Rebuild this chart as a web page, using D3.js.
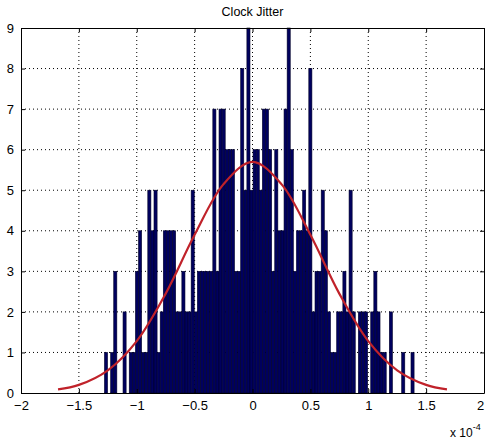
<!DOCTYPE html>
<html>
<head>
<meta charset="utf-8">
<script src="https://cdn.jsdelivr.net/npm/d3@7"></script>
<style>
  body { margin: 0; background: #fff; }
  text { font-family: "Liberation Sans", Arial, sans-serif; fill: #000; }
</style>
</head>
<body>
<div id="chart"></div>
<script>
// histogram of the jitter samples (units of 1e-4)
var binStart = -1.279;
var binWidth = 0.02675;
var counts = [
  1, 0, 1, 3, 0, 0, 2, 0, 1, 1,
  3, 4, 1, 1, 5, 4, 5, 1, 2, 4,
  4, 4, 4, 2, 2, 3, 2, 2, 5, 2,
  3, 3, 3, 3, 3, 7, 3, 7, 7, 6,
  6, 6, 3, 3, 8, 5, 9, 5, 6, 6,
  5, 7, 7, 6, 3, 6, 4, 4, 7, 9,
  6, 3, 4, 4, 5, 4, 8, 2, 3, 3,
  5, 4, 2, 1, 1, 2, 2, 3, 2, 5,
  2, 0, 2, 2, 2, 0, 2, 3, 2, 1,
  1, 0, 2, 0, 0, 0, 1, 0, 0, 1
];

// fitted normal curve
var fitX = [-1.68, -1.5, -1.25, -1.0, -0.75, -0.5, -0.25, 0, 0.25, 0.5, 0.75, 1.0, 1.25, 1.5, 1.68];
var fitY = [0.09, 0.2, 0.56, 1.28, 2.45, 3.9, 5.15, 5.7, 5.15, 3.9, 2.45, 1.28, 0.56, 0.2, 0.09];

var xTicks = [-2, -1.5, -1, -0.5, 0, 0.5, 1, 1.5, 2];
var yTicks = [0, 1, 2, 3, 4, 5, 6, 7, 8, 9];

var W = 485, H = 443;
var margin = { left: 21, right: 1, top: 28, bottom: 50 };
var width = W - margin.left - margin.right;
var height = H - margin.top - margin.bottom;

var svg = d3.select('#chart').append('svg')
  .attr('width', W)
  .attr('height', H);

var g = svg.append('g')
  .attr('transform', 'translate(' + margin.left + ',' + margin.top + ')');

var x = d3.scaleLinear().domain([-2, 2]).range([0, width]);
var y = d3.scaleLinear().domain([0, 9]).range([height, 0]);

// grid (behind the data)
g.append('g').selectAll('line')
  .data(xTicks.slice(1, -1))
  .enter().append('line')
  .attr('x1', d => x(d)).attr('x2', d => x(d))
  .attr('y1', 0).attr('y2', height)
  .attr('stroke', '#000').attr('stroke-width', 1)
  .attr('stroke-dasharray', '1,3');

g.append('g').selectAll('line')
  .data(yTicks.slice(1, -1))
  .enter().append('line')
  .attr('x1', 0).attr('x2', width)
  .attr('y1', d => y(d)).attr('y2', d => y(d))
  .attr('stroke', '#000').attr('stroke-width', 1)
  .attr('stroke-dasharray', '1,3');

// bars
g.append('g').selectAll('rect')
  .data(counts)
  .enter().append('rect')
  .attr('x', (d, i) => x(binStart + i * binWidth))
  .attr('width', x(binWidth) - x(0))
  .attr('y', d => y(d))
  .attr('height', d => y(0) - y(d))
  .attr('fill', '#00005e')
  .attr('stroke', '#000028')
  .attr('stroke-width', 0.6);

// fit line
var line = d3.line()
  .x((d, i) => x(fitX[i]))
  .y(d => y(d))
  .curve(d3.curveCatmullRom);

g.append('path')
  .datum(fitY)
  .attr('d', line)
  .attr('fill', 'none')
  .attr('stroke', '#c0222a')
  .attr('stroke-width', 2.2);

// axes box + inward ticks
var xAxisB = d3.axisBottom(x).tickValues(xTicks).tickSizeInner(-4).tickSizeOuter(0)
  .tickPadding(8).tickFormat(d3.format('~g'));
var xAxisT = d3.axisTop(x).tickValues(xTicks).tickSizeInner(-4).tickSizeOuter(0).tickFormat('');
var yAxisL = d3.axisLeft(y).tickValues(yTicks).tickSizeInner(-4).tickSizeOuter(0).tickPadding(7);
var yAxisR = d3.axisRight(y).tickValues(yTicks).tickSizeInner(-4).tickSizeOuter(0).tickFormat('');

function styleAxis(sel) {
  sel.select('.domain').attr('stroke', '#000');
  sel.selectAll('.tick line').attr('stroke', '#000');
  sel.selectAll('.tick text').attr('font-size', 13).attr('fill', '#000')
    .attr('font-family', '"Liberation Sans", Arial, sans-serif');
}

var xb = g.append('g').attr('transform', 'translate(0,' + height + ')').call(xAxisB).call(styleAxis);
// keep the last label inside the window
xb.selectAll('.tick text').filter(d => d === 2).attr('dx', -4);
g.append('g').call(xAxisT).call(styleAxis);
g.append('g').call(yAxisL).call(styleAxis);
g.append('g').attr('transform', 'translate(' + width + ',0)').call(yAxisR).call(styleAxis);

// title
svg.append('text')
  .attr('x', margin.left + width / 2)
  .attr('y', 16)
  .attr('text-anchor', 'middle')
  .attr('font-size', 12.5)
  .text('Clock Jitter');

// exponent label
var ex = svg.append('text')
  .attr('x', 450)
  .attr('y', 437)
  .attr('font-size', 12);
ex.append('tspan').text('x 10');
ex.append('tspan').attr('dy', -7).attr('font-size', 9).text('-4');
</script>
</body>
</html>
